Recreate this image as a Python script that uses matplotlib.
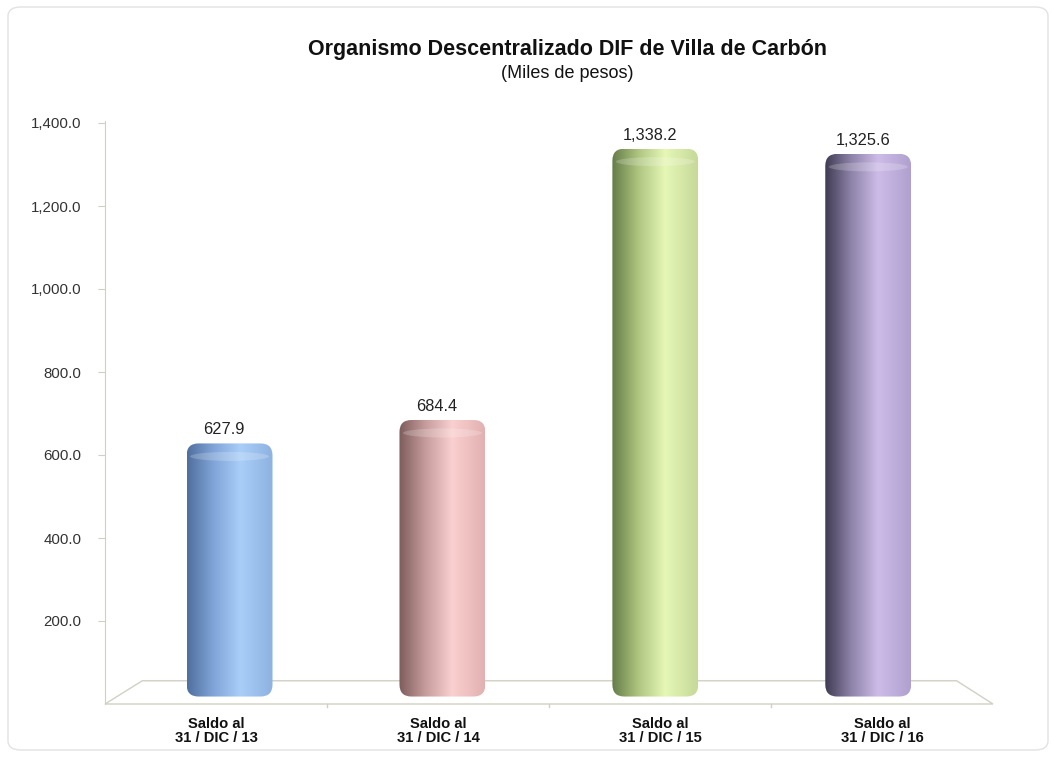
import matplotlib.pyplot as plt
import numpy as np
from matplotlib.patches import FancyBboxPatch, Polygon, Ellipse
from matplotlib.colors import LinearSegmentedColormap

# datos
categorias = ['Saldo al\n31 / DIC / 13', 'Saldo al\n31 / DIC / 14',
              'Saldo al\n31 / DIC / 15', 'Saldo al\n31 / DIC / 16']
valores = [627.9, 684.4, 1338.2, 1325.6]
etiquetas = ['627.9', '684.4', '1,338.2', '1,325.6']
ticks_y = [200, 400, 600, 800, 1000, 1200, 1400]
ticks_y_lbl = ['200.0', '400.0', '600.0', '800.0', '1,000.0', '1,200.0', '1,400.0']

# colores de cada cilindro: oscuro, medio, claro, borde derecho
colores = [
    ['#4f6f9e', '#7fa3d6', '#a9cef8', '#8db2e0'],
    ['#7e5c5c', '#c59a9a', '#fbd0d0', '#e2b0b0'],
    ['#647c48', '#adc47f', '#e6f7b6', '#c6d998'],
    ['#3f3b52', '#8d82a8', '#cdbce8', '#b0a0cf'],
]

plt.rcParams['font.family'] = ['Liberation Sans', 'DejaVu Sans']

W, H = 1051, 757
fig = plt.figure(figsize=(W / 100, H / 100), dpi=100)
fig.patch.set_facecolor('white')

# marco redondeado del grafico
marco = FancyBboxPatch((8 / W, 7 / H), 1040 / W, 743 / H,
                       boxstyle='round,pad=0,rounding_size=0.012',
                       transform=fig.transFigure, facecolor='none',
                       edgecolor='#e2e2e2', linewidth=1.0)
fig.patches.append(marco)

ax_l, ax_r = 105 / W, 993 / W
ax_b, ax_t = 1 - 704 / H, 1 - 123 / H
ax = fig.add_axes([ax_l, ax_b, ax_r - ax_l, ax_t - ax_b])
ax.set_xlim(-0.5, 3.5)
ax.set_ylim(0, 1400)

gris = '#d0d0c4'
for s in ['top', 'right', 'bottom']:
    ax.spines[s].set_visible(False)
ax.spines['left'].set_color(gris)
ax.spines['left'].set_bounds(0, 1405)

# piso en perspectiva
piso = Polygon([[0, 0], [1, 0], [0.959, 0.04], [0.042, 0.04]], closed=True,
               transform=ax.transAxes, facecolor='none', edgecolor=gris,
               linewidth=1.0, zorder=1, clip_on=False)
ax.add_patch(piso)
for xb in [0.5, 1.5, 2.5]:
    ax.plot([xb, xb], [0, -8], color=gris, lw=1, clip_on=False)

ax.set_yticks(ticks_y)
ax.set_yticklabels(ticks_y_lbl, fontsize=10.8, color='#333333')
ax.tick_params(axis='y', length=5, color=gris, pad=12)
ax.set_xticks(range(len(categorias)))
ax.set_xticklabels(categorias, fontsize=10.6, fontweight='bold', color='#111111',
                   linespacing=1.05)
ax.tick_params(axis='x', length=0, pad=9)

# escalas en pixeles para redondear las esquinas
px_x = (ax_r - ax_l) * W / 4.0
px_y = (ax_t - ax_b) * H / 1400.0
radio_px = 12
r_x = radio_px / px_x
aspecto = (radio_px / px_y) / r_x

ancho = 0.387
base = 18
grad = np.linspace(0, 1, 256).reshape(1, -1)
for i, v in enumerate(valores):
    # los cilindros estan a media profundidad del piso
    cx = 0.061 + i * 0.959
    x0 = cx - ancho / 2
    cm = LinearSegmentedColormap.from_list(
        'c%d' % i, list(zip([0, 0.3, 0.62, 1.0], colores[i])))
    caja = FancyBboxPatch((x0, base), ancho, v - base,
                          boxstyle='round,pad=0,rounding_size=%f' % r_x,
                          mutation_aspect=aspecto, facecolor='none',
                          edgecolor='none', transform=ax.transData)
    ax.add_patch(caja)
    im = ax.imshow(grad, extent=[x0, x0 + ancho, base, v], aspect='auto',
                   cmap=cm, zorder=3, interpolation='bilinear')
    im.set_clip_path(caja)
    # tapa del cilindro
    tapa = Ellipse((cx, v - 13 / px_y), ancho * 0.92, 9 / px_y,
                   facecolor='white', alpha=0.2, edgecolor='none', zorder=4)
    ax.add_patch(tapa)
    tapa.set_clip_path(caja)
    ax.text(cx - 0.025, v + 6 / px_y, etiquetas[i], ha='center', va='bottom',
            fontsize=11.8, color='#222222')

ax.set_xlim(-0.5, 3.5)
ax.set_ylim(0, 1400)

fig.text(0.54, 1 - 50 / H, 'Organismo Descentralizado DIF de Villa de Carbón',
         ha='center', va='center', fontsize=15.5, fontweight='bold', color='#111111')
fig.text(0.54, 1 - 73 / H, '(Miles de pesos)', ha='center', va='center',
         fontsize=13, color='#111111')

fig.savefig('out.png', dpi=100, facecolor='white')
